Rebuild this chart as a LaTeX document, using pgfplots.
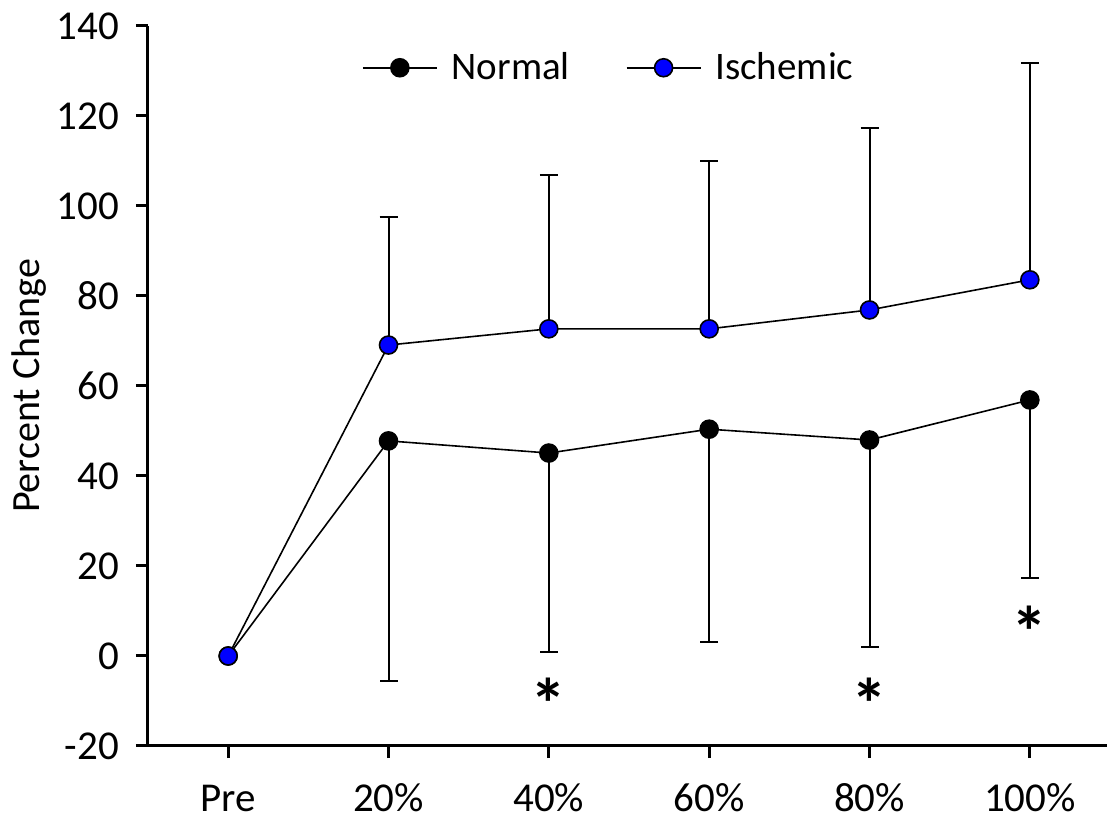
\documentclass[border=0pt]{standalone}
\usepackage{pgfplots}
\pgfplotsset{compat=1.18}
\usepackage{fontspec}
\setmainfont{Carlito}
\definecolor{ischblue}{RGB}{0,0,255}

\begin{document}
\begin{tikzpicture}
\begin{axis}[
  scale only axis,
  width=481pt, height=360pt,
  xmin=-0.5, xmax=5.5,
  ymin=-20, ymax=140,
  ytick={-20,0,...,140},
  xtick={0,...,5},
  xticklabels={Pre,20\%,40\%,60\%,80\%,100\%},
  axis x line*=bottom,
  axis y line*=left,
  axis line style={line width=1.5pt, -},
  tick align=outside,
  major tick length=6pt,
  tick style={line width=1.5pt, black},
  x tick label style={inner sep=0.5pt, text height=13.5pt, text depth=0.5pt,
    anchor=north, yshift=-12.5pt},
  y tick label style={xshift=-5pt},
  /pgf/number format/assume math mode=true,
  tick label style={font=\fontsize{20.5}{24}\selectfont},
  ylabel={Percent Change},
  ylabel style={font=\fontsize{20}{24}\selectfont, yshift=-2pt},
  legend style={draw=none, fill=none, at={(0.48,0.942)}, anchor=center,
    font=\fontsize{19.5}{22}\selectfont, legend columns=2,
    /tikz/every odd column/.append style={column sep=5pt},
    /tikz/every even column/.append style={column sep=26pt}},
  legend image code/.code={
    \draw[line width=0.8pt] (0pt,0pt) -- (37pt,0pt);
    \draw[#1, line width=0.8pt] plot coordinates {(18.5pt,0pt)};
  },
  clip=false,
]
% Normal: mean with downward SD
\addplot[black, line width=0.8pt, mark=*, mark size=4.5pt,
  mark options={fill=black, draw=black, line width=0.8pt},
  error bars/.cd, y dir=minus, y explicit,
  error bar style={line width=1pt, black},
  error mark options={rotate=90, mark size=4.5pt, line width=1pt}]
coordinates {
  (0,0) +- (0,0)
  (1,47.8) +- (0,53.4)
  (2,45.1) +- (0,44.2)
  (3,50.4) +- (0,47.3)
  (4,48.0) +- (0,46.0)
  (5,56.9) +- (0,39.6)
};
\addlegendentry{Normal}
% Ischemic: mean with upward SD
\addplot[black, line width=0.8pt, mark=*, mark size=4.5pt,
  mark options={fill=ischblue, draw=black, line width=0.8pt},
  error bars/.cd, y dir=plus, y explicit,
  error bar style={line width=1pt, black},
  error mark options={rotate=90, mark size=4.5pt, line width=1pt}]
coordinates {
  (0,0) +- (0,0)
  (1,69.1) +- (0,28.5)
  (2,72.7) +- (0,34.2)
  (3,72.7) +- (0,37.3)
  (4,76.9) +- (0,40.4)
  (5,83.6) +- (0,48.2)
};
\addlegendentry{Ischemic}
% significance markers
\node[font=\fontsize{36}{36}\selectfont\bfseries, inner sep=0pt] at (axis cs:2,-10.5) {*};
\node[font=\fontsize{36}{36}\selectfont\bfseries, inner sep=0pt] at (axis cs:4,-10.5) {*};
\node[font=\fontsize{36}{36}\selectfont\bfseries, inner sep=0pt] at (axis cs:5,5.5) {*};
\end{axis}
% fixed page frame around the axis
\pgfresetboundingbox
\path (current axis.south west) ++(-74pt,-36pt) rectangle ++(553.5pt,409pt);
\end{tikzpicture}
\end{document}
